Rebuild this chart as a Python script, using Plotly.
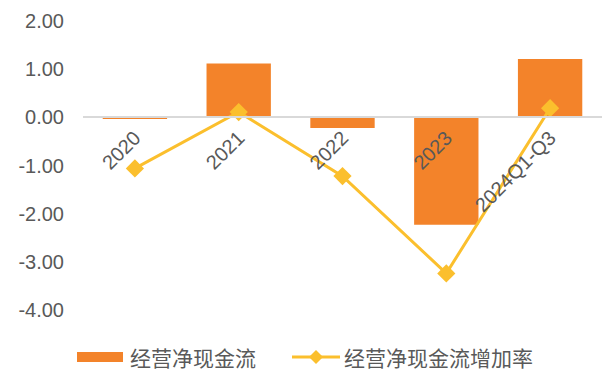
import plotly.graph_objects as go

categories = ["2020", "2021", "2022", "2023", "2024Q1-Q3"]
cash_flow = [-0.03, 1.12, -0.22, -2.23, 1.21]
growth_rate = [-1.06, 0.11, -1.22, -3.24, 0.19]
y_ticks = [2, 1, 0, -1, -2, -3, -4]
y_tick_labels = ["2.00", "1.00", "0.00", "-1.00", "-2.00", "-3.00", "-4.00"]
legend_names = ["经营净现金流", "经营净现金流增加率"]

bar_color = "#F3832A"
line_color = "#FBBF2D"
text_color = "#595959"
cjk = "Noto Sans CJK SC"

L, R, T, B = 83, 2, 21, 62
W, H = 604, 372
PW, PH = W - L - R, H - T - B

def px(x):
    return (x - L) / PW

def py(y):
    return (H - B - y) / PH

fig = go.Figure()
fig.add_trace(go.Bar(
    x=categories, y=cash_flow, name=legend_names[0],
    marker=dict(color=bar_color, line=dict(width=0)), width=0.62,
))
fig.add_trace(go.Scatter(
    x=categories, y=growth_rate, name=legend_names[1],
    mode="lines+markers",
    line=dict(color=line_color, width=3),
    marker=dict(symbol="diamond", size=14, color=line_color),
))

ly = 357
shapes = [
    dict(type="rect", xref="paper", yref="paper", x0=px(77), x1=px(123), y0=py(362), y1=py(352),
         fillcolor=bar_color, line=dict(width=0)),
    dict(type="line", xref="paper", yref="paper", x0=px(292), x1=px(340), y0=py(ly), y1=py(ly),
         line=dict(color=line_color, width=3)),
    dict(type="path", xref="paper", yref="paper",
         path=f"M {px(316)} {py(ly-7)} L {px(323)} {py(ly)} L {px(316)} {py(ly+7)} L {px(309)} {py(ly)} Z",
         fillcolor=line_color, line=dict(width=0)),
]
annotations = [
    dict(xref="paper", yref="paper", x=px(128), y=py(ly), xanchor="left", yanchor="middle",
         text=legend_names[0], showarrow=False, font=dict(family=cjk, size=21, color=text_color)),
    dict(xref="paper", yref="paper", x=px(342), y=py(ly), xanchor="left", yanchor="middle",
         text=legend_names[1], showarrow=False, font=dict(family=cjk, size=21, color=text_color)),
]

fig.update_layout(
    width=W, height=H,
    margin=dict(l=L, r=R, t=T, b=B, autoexpand=False),
    plot_bgcolor="white", paper_bgcolor="white",
    showlegend=False,
    shapes=shapes, annotations=annotations,
    xaxis=dict(
        anchor="free", position=2/3, automargin=False,
        showline=True, linecolor="#D9D9D9", linewidth=2,
        ticks="", tickangle=-45,
        tickfont=dict(family="Liberation Sans, Arial", size=20, color=text_color),
        showgrid=False, zeroline=False,
    ),
    yaxis=dict(
        range=[-4, 2], tickvals=y_ticks, ticktext=y_tick_labels, automargin=False,
        showgrid=False, zeroline=False, showline=False, ticks="",
        tickfont=dict(family="Liberation Sans, Arial", size=20, color=text_color),
        ticklabelstandoff=18,
    ),
    bargap=0.38,
)

fig.write_html("out.html")
